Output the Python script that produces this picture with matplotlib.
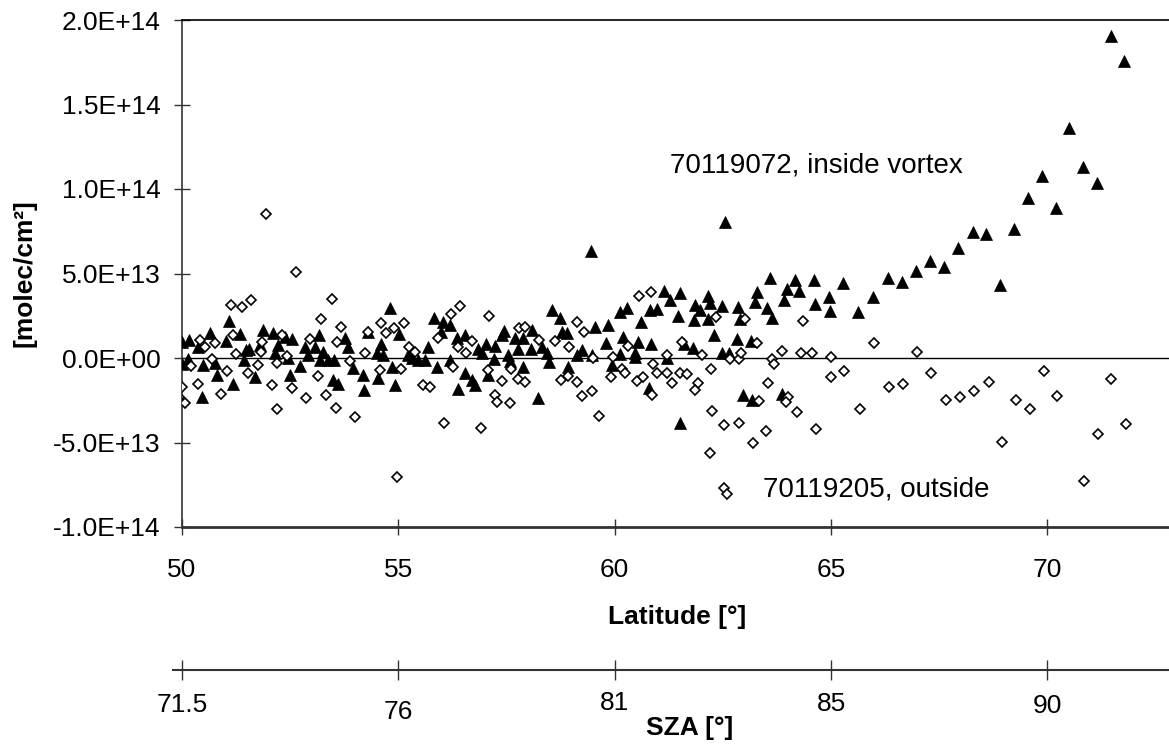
import matplotlib
matplotlib.use("Agg")
import matplotlib.pyplot as plt
import matplotlib.transforms as mtransforms

plt.rcParams['font.family'] = ['Liberation Sans', 'DejaVu Sans']

# ---------------- data ----------------
# inside vortex (70119072): latitude [deg], value [1e13 molec/cm2]
inside_lat = [
    50.01, 50.16, 50.00, 50.13, 50.36, 50.49, 50.65, 50.76, 50.82, 51.09,
    51.01, 51.34, 51.19, 51.44, 51.49, 51.55, 51.69, 51.88, 51.80, 52.11,
    52.23, 52.15, 52.38, 52.55, 52.46, 52.50, 52.84, 52.92, 52.73, 53.07,
    53.17, 53.27, 53.19, 53.37, 53.52, 53.50, 53.61, 53.77, 53.84, 53.96,
    54.19, 54.21, 54.31, 54.52, 54.50, 54.60, 54.65, 54.81, 54.92, 55.01,
    54.86, 50.47,
    55.83, 56.04, 56.19, 55.99, 55.69, 56.35, 56.53, 55.22, 55.32, 55.46,
    55.62, 55.89, 56.19, 56.54, 56.70, 56.77, 56.37, 56.85, 56.94, 57.02,
    57.23, 57.20, 57.07, 57.39, 57.45, 57.54, 57.58, 57.70, 57.89, 57.77,
    57.89, 58.08, 58.07, 58.22, 58.31, 58.43, 58.48, 58.56, 58.74, 58.78,
    58.89, 58.93, 59.12, 59.25, 59.47, 59.55, 59.85, 59.79, 59.93, 59.45,
    62.55, 60.12, 60.28, 60.61, 60.82, 60.97, 61.15, 61.28, 61.51, 61.47,
    61.86, 61.97, 61.84, 62.16, 62.20, 62.16, 62.49, 62.30, 62.84, 62.90,
    62.82, 63.15, 63.24, 63.30, 63.51, 63.64, 63.59, 63.92, 63.99, 64.17,
    64.26, 64.61, 64.63, 64.95, 64.98, 60.20, 60.53, 60.85, 60.12, 60.47,
    60.48, 61.20, 61.61, 61.82, 62.47, 62.64, 60.79, 61.51, 62.97, 63.17,
    63.86,
    65.28, 65.63, 65.98, 66.31, 66.63, 66.96, 67.29, 67.60, 67.94, 68.27,
    68.59, 68.91, 69.23, 69.56, 69.88, 70.19, 70.51, 70.82, 71.15, 71.46,
    71.76,
]
inside_val = [
    0.97, 1.07, -0.36, -0.08, 0.63, -0.41, 1.50, -0.32, -1.01, 2.19,
    1.03, 1.42, -1.56, -0.12, 0.47, 0.51, -1.10, 1.66, 0.77, 1.50,
    0.77, 0.28, 1.26, 1.10, -0.02, -1.01, 0.67, 0.18, -0.47, 0.67,
    1.36, 0.37, -0.12, -0.12, -0.12, -1.30, -1.54, 1.16, 0.67, -0.61,
    -1.01, -1.89, 1.56, -1.20, 0.28, 0.83, 0.18, 2.94, -1.60, 1.40,
    -0.51, -2.29,
    2.35, 2.15, 1.95, 1.56, 0.67, 1.16, 1.36, 0.18, -0.02, -0.12,
    -0.12, -0.51, -0.12, -0.91, -1.30, -1.60, -1.85, 0.51, 0.28, 0.83,
    0.71, -0.08, -1.01, 1.36, 1.62, 0.18, -0.16, 1.16, 1.16, 0.53,
    -0.51, 1.66, 0.51, -2.39, 0.67, 0.28, -0.22, 2.84, 2.35, 1.56,
    1.46, -0.51, 0.18, 0.47, 0.18, 1.85, 1.95, 0.91, -0.41, 6.33,
    8.07, 2.74, 2.94, 2.15, 2.84, 2.88, 3.98, 3.43, 3.87, 2.51,
    3.14, 2.84, 2.25, 3.67, 3.27, 2.29, 3.08, 1.36, 3.00, 2.29,
    1.12, 1.03, 3.33, 3.93, 2.94, 2.35, 4.71, 3.43, 4.06, 4.62,
    3.98, 4.62, 3.20, 3.63, 2.80, 1.22, 0.97, 0.81, 0.24, 0.08,
    0.32, -0.02, 0.83, 0.57, 0.32, 0.32, -1.80, -3.83, -2.19, -2.49,
    -2.13,
    4.42, 2.70, 3.63, 4.71, 4.52, 5.17, 5.74, 5.40, 6.53, 7.46,
    7.32, 4.32, 7.61, 9.49, 10.77, 8.89, 13.59, 11.28, 10.37, 19.07,
    17.57,
]

# outside vortex (70119205)
outside_lat = [
    51.93, 52.63, 54.96, 49.93,
    51.13, 51.39, 51.59, 53.46, 53.21, 53.67, 54.61, 54.71, 54.91, 55.14,
    54.29, 50.42, 50.53, 50.76, 51.19, 51.86, 52.30, 52.96, 53.58, 54.24,
    51.24, 51.83, 50.69, 50.21, 51.75, 52.19, 52.42, 53.88, 51.03, 51.52,
    50.00, 50.36, 50.89, 52.09, 52.55, 50.07, 52.20, 52.87, 53.32, 53.56,
    54.00, 53.14, 54.58, 55.06,
    56.22, 56.43, 57.10, 55.92, 56.37, 56.56, 56.71, 55.25, 55.39, 56.27,
    55.57, 55.73, 57.07, 57.40, 57.60, 57.76, 57.93, 57.23, 57.27, 57.58,
    56.06, 56.91, 57.79, 57.93, 58.25, 58.62, 58.94, 59.12, 59.30, 58.77,
    58.91, 59.14, 59.25, 59.48, 59.64, 59.92, 60.17, 59.51, 59.97,
    60.56, 60.85, 62.33, 63.01, 64.36, 60.30, 63.28, 61.55, 60.24, 60.51,
    60.66, 60.89, 60.97, 61.20, 61.22, 61.33, 61.51, 61.66, 61.92, 61.86,
    62.01, 62.23, 62.66, 62.87, 62.93, 63.63, 63.69, 63.87, 64.30, 64.55,
    65.00, 65.01, 65.30, 60.87, 63.54, 62.24, 62.53, 62.87, 63.20, 63.49,
    64.01, 63.97, 64.21, 64.65, 62.20, 63.34, 62.53, 62.59,
    66.00, 65.68, 66.34, 66.66, 66.99, 67.32, 67.66, 67.99, 68.31, 68.64,
    68.96, 69.27, 69.59, 69.91, 70.22, 70.85, 71.18, 71.48, 71.81,
]
outside_val = [
    8.50, 5.11, -7.06, -2.30,
    3.14, 3.04, 3.43, 3.47, 2.29, 1.81, 2.05, 1.46, 1.76, 2.09,
    1.56, 1.06, 0.63, 0.87, 1.36, 0.97, 1.36, 1.12, 0.97, 0.28,
    0.24, 0.37, -0.08, -0.47, -0.41, -0.32, 0.12, -0.16, -0.75, -0.87,
    -1.70, -1.54, -2.13, -1.58, -1.80, -2.64, -3.04, -2.39, -2.19, -2.98,
    -3.51, -1.07, -0.71, -0.63,
    2.58, 3.10, 2.49, 1.16, 0.63, 0.32, 1.02, 0.67, 0.37, -0.51,
    -1.60, -1.74, -0.71, -1.34, -0.67, -1.26, -1.40, -2.19, -2.58, -2.68,
    -3.83, -4.16, 1.76, 1.85, 1.06, 1.02, 0.63, 2.15, 1.56, -1.30,
    -1.07, -1.40, -2.25, -1.93, -3.43, -1.10, -0.64, -0.02, 0.04,
    3.67, 3.93, 2.45, 2.29, 2.21, 0.71, 0.91, 0.97, -0.91, -1.34,
    -1.10, -0.36, -0.87, 0.18, -0.91, -1.50, -0.91, -0.95, -1.46, -1.89,
    0.18, -0.67, -0.08, -0.08, 0.28, -0.08, -0.36, 0.43, 0.32, 0.32,
    0.08, -1.14, -0.75, -2.19, -1.50, -3.12, -3.96, -3.83, -5.05, -4.32,
    -2.29, -2.58, -3.18, -4.22, -5.60, -2.53, -7.71, -8.07,
    0.91, -3.04, -1.74, -1.56, 0.34, -0.87, -2.49, -2.33, -1.95, -1.44,
    -4.97, -2.49, -3.04, -0.75, -2.25, -7.28, -4.50, -1.22, -3.92,
]

y_ticks = [-10, -5, 0, 5, 10, 15, 20]
y_tick_labels = ["-1.0E+14", "-5.0E+13", "0.0E+00", "5.0E+13",
                 "1.0E+14", "1.5E+14", "2.0E+14"]
lat_ticks = [50, 55, 60, 65, 70]
sza_labels = ["71.5", "76", "81", "85", "90"]

label_inside = "70119072, inside vortex"
label_outside = "70119205, outside"

# ---------------- figure ----------------
W, H = 1169, 744
fig = plt.figure(figsize=(W / 100, H / 100), dpi=100)

ax_left, ax_right = 182 / W, 1.0
ax_bottom, ax_top = 1 - 527 / H, 1 - 20 / H
ax = fig.add_axes([ax_left, ax_bottom, ax_right - ax_left, ax_top - ax_bottom])
xmax = 50 + (W - 182) / 43.27
ax.set_xlim(50, xmax)
ax.set_ylim(-10, 20)

ax.axhline(0, color='black', lw=1.0, zorder=1)

ax.plot(inside_lat, inside_val, linestyle='none', marker='^', ms=8.5,
        mfc='black', mec='black', mew=0.5, zorder=3, clip_on=True)
ax.plot(outside_lat, outside_val, linestyle='none', marker='D', ms=5.2,
        mfc='white', mec='black', mew=1.2, zorder=4, clip_on=True)

ax.set_yticks(y_ticks)
ax.set_yticklabels(y_tick_labels)
ax.set_xticks(lat_ticks)
ax.set_xticklabels([str(t) for t in lat_ticks])

ax.tick_params(axis='both', direction='inout', length=11, width=1.0,
               labelsize=19, color='#333333')
ax.tick_params(axis='y', pad=10)
ax.tick_params(axis='x', pad=17)

ax.spines['right'].set_visible(False)
ax.spines['top'].set_color('black')
ax.spines['top'].set_linewidth(1.2)
ax.spines['left'].set_color('#333333')
ax.spines['left'].set_linewidth(1.2)
ax.spines['bottom'].set_color('#333333')
ax.spines['bottom'].set_linewidth(2.0)

ax.text(61.28, 11.4, label_inside, fontsize=20, ha='left', va='center',
        zorder=6)
ax.text(63.42, -7.8, label_outside, fontsize=20, ha='left', va='center',
        zorder=6, bbox=dict(facecolor='white', edgecolor='none', pad=2))

fig.text(25 / W, 1 - 273 / H, "[molec/cm²]", rotation=90, fontsize=19,
         fontweight='bold', ha='center', va='center')
fig.text(677 / W, 1 - 617 / H, "Latitude [°]", fontsize=19,
         fontweight='bold', ha='center', va='center')

# second (SZA) axis, its line starts a little left of the first tick
sza_y = 1 - 670 / H
ax2_left = 173 / W
ax2 = fig.add_axes([ax2_left, sza_y, ax_right - ax2_left, 0.001])
ax2.set_xlim(50 - 9 / 43.27, xmax)
ax2.set_ylim(0, 1)
ax2.patch.set_visible(False)
for s in ['top', 'right', 'left']:
    ax2.spines[s].set_visible(False)
ax2.spines['bottom'].set_color('#333333')
ax2.spines['bottom'].set_linewidth(1.5)
ax2.set_yticks([])
ax2.set_xticks(lat_ticks)
ax2.set_xticklabels([])
ax2.tick_params(axis='x', direction='inout', length=14, width=1.0,
                color='#333333')

sza_label_y = [705, 712, 703, 704, 706]
trans = mtransforms.blended_transform_factory(ax2.transData, fig.transFigure)
for x, lab, yy in zip(lat_ticks, sza_labels, sza_label_y):
    ax2.text(x, 1 - yy / H, lab, transform=trans, fontsize=19,
             ha='center', va='center')
fig.text(690 / W, 1 - 728 / H, "SZA [°]", fontsize=19,
         fontweight='bold', ha='center', va='center')

fig.savefig("out.png", dpi=100)
